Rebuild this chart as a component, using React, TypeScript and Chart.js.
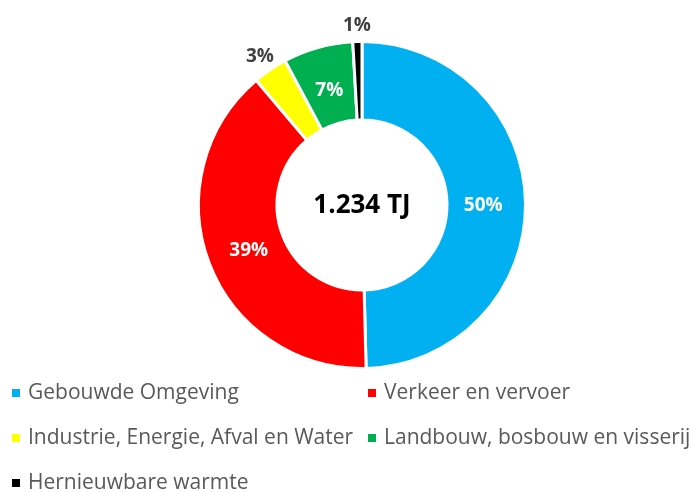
import React, { useEffect, useRef } from "react";
import { Chart, registerables } from "chart.js";

Chart.register(...registerables);

const categories = [
  "Gebouwde Omgeving",
  "Verkeer en vervoer",
  "Industrie, Energie, Afval en Water",
  "Landbouw, bosbouw en visserij",
  "Hernieuwbare warmte",
];
const shares = [49.6, 39.2, 3.4, 6.9, 0.9];
const pctLabels = ["50%", "39%", "3%", "7%", "1%"];
const outsideLabel = [false, false, true, false, true];
const colors = ["#00B0F0", "#FF0000", "#FFFF00", "#00B050", "#000000"];
const centerText = "1.234 TJ";

const FONT = "'Open Sans', 'Noto Sans', sans-serif";

const labelPlugin = {
  id: "sliceLabels",
  afterDatasetsDraw(chart: any) {
    const ctx = chart.ctx;
    const meta = chart.getDatasetMeta(0);
    ctx.save();
    ctx.textAlign = "center";
    ctx.textBaseline = "middle";
    meta.data.forEach((arc: any, i: number) => {
      const { startAngle, endAngle, innerRadius, outerRadius, x, y } = arc.getProps(
        ["startAngle", "endAngle", "innerRadius", "outerRadius", "x", "y"],
        true
      );
      const mid = (startAngle + endAngle) / 2;
      let r = (innerRadius + outerRadius) / 2 - 3;
      if (outsideLabel[i]) r = outerRadius + 18;
      const lx = x + Math.cos(mid) * r;
      const ly = y + Math.sin(mid) * r + 2;
      ctx.font = `bold 19px ${FONT}`;
      ctx.fillStyle = outsideLabel[i] ? "#404040" : "#FFFFFF";
      ctx.fillText(pctLabels[i], lx, ly);
    });
    const a = meta.data[0];
    ctx.font = `bold 26px ${FONT}`;
    ctx.fillStyle = "#000000";
    ctx.fillText(centerText, a.x, a.y + 1);
    ctx.restore();
  },
};

const legendPlugin = {
  id: "customLegend",
  afterDraw(chart: any) {
    const ctx = chart.ctx;
    const labels = chart.data.labels as string[];
    const bg = chart.data.datasets[0].backgroundColor as string[];
    const colX = [12, 368];
    const rowY = [393, 438, 483];
    ctx.save();
    ctx.textAlign = "left";
    ctx.textBaseline = "middle";
    ctx.font = `21px ${FONT}`;
    labels.forEach((lab, i) => {
      const cx = colX[i % 2];
      const cy = rowY[Math.floor(i / 2)];
      ctx.fillStyle = bg[i];
      ctx.fillRect(cx, cy - 4, 8, 8);
      ctx.fillStyle = "#595959";
      ctx.fillText(lab, cx + 16, cy);
    });
    ctx.restore();
  },
};

export default function App() {
  const ref = useRef<HTMLCanvasElement>(null);
  useEffect(() => {
    document.body.style.margin = "0";
    const chart = new Chart(ref.current!, {
      type: "doughnut",
      data: {
        labels: categories,
        datasets: [
          {
            data: shares,
            backgroundColor: colors,
            borderColor: "#FFFFFF",
            borderWidth: 3,
          },
        ],
      },
      options: {
        animation: false,
        responsive: false,
        cutout: "52%",
        layout: { padding: { top: 40, bottom: 122, left: 197, right: 164 } },
        plugins: {
          legend: { display: false },
          tooltip: { enabled: false },
        },
      },
      plugins: [labelPlugin, legendPlugin],
    });
    return () => chart.destroy();
  }, []);
  return (
    <div style={{ position: "absolute", left: 0, top: 0, width: 691, height: 492, background: "#fff" }}>
      <canvas ref={ref} width={691} height={492} style={{ display: "block" }} />
    </div>
  );
}
